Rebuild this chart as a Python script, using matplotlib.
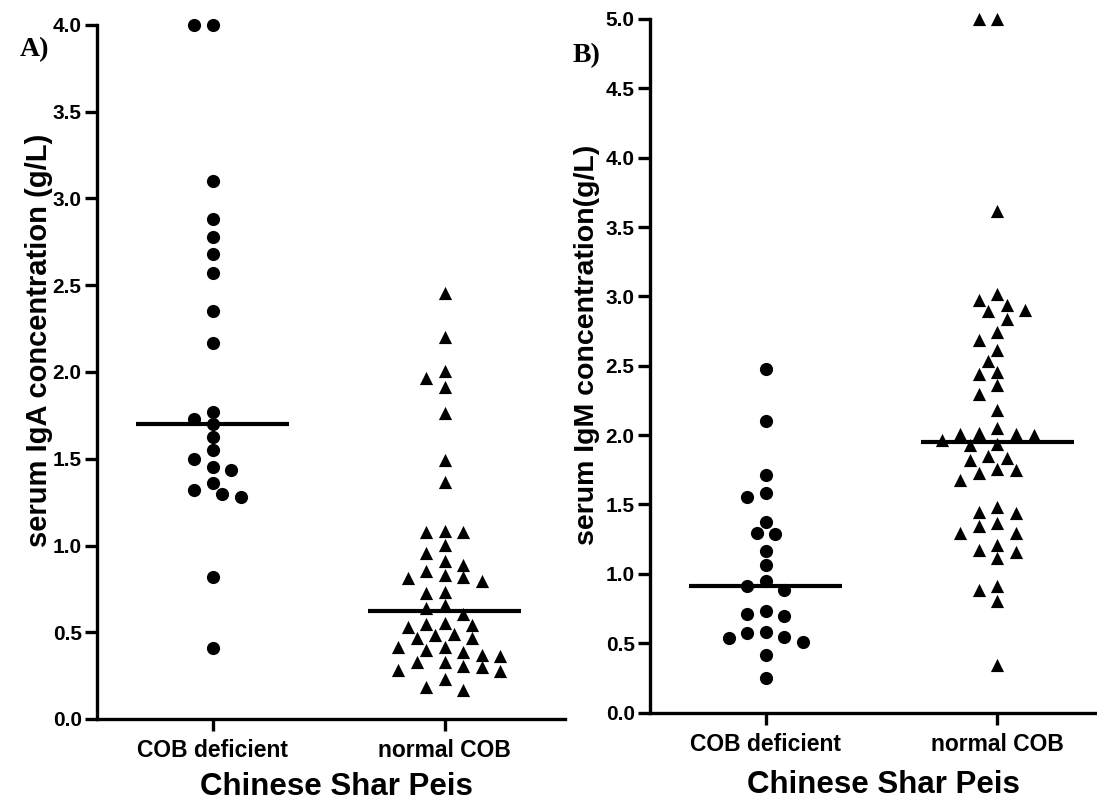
import numpy as np
import matplotlib
matplotlib.use("Agg")
import matplotlib.pyplot as plt

# ---------------- data ----------------
categories = ["COB deficient", "normal COB"]
xlabel_text = "Chinese Shar Peis"
ylabel_a = "serum IgA concentration (g/L)"
ylabel_b = "serum IgM concentration(g/L)"
panel_a = "A)"
panel_b = "B)"

iga_cob_deficient = [4.0, 4.0, 3.10, 2.88, 2.78, 2.68, 2.57, 2.35, 2.165, 1.77,
                     1.727, 1.70, 1.627, 1.55, 1.50, 1.454, 1.435, 1.362, 1.32,
                     1.295, 1.28, 0.817, 0.407]
iga_normal_cob = [2.455, 2.203, 2.006, 1.967, 1.911, 1.765, 1.493, 1.368, 1.085,
                  1.08, 1.075, 1.003, 0.959, 0.912, 0.89, 0.853, 0.83, 0.82,
                  0.814, 0.795, 0.734, 0.724, 0.657, 0.638, 0.608, 0.555, 0.548,
                  0.542, 0.532, 0.49, 0.484, 0.469, 0.465, 0.417, 0.413, 0.398,
                  0.388, 0.369, 0.363, 0.33, 0.33, 0.305, 0.297, 0.282, 0.277,
                  0.228, 0.182, 0.17]
igm_cob_deficient = [2.478, 2.105, 1.713, 1.581, 1.557, 1.372, 1.297, 1.288,
                     1.165, 1.064, 0.951, 0.915, 0.884, 0.735, 0.711, 0.696,
                     0.583, 0.571, 0.543, 0.535, 0.511, 0.415, 0.247]
igm_normal_cob = [5.0, 5.0, 3.613, 3.02, 2.971, 2.94, 2.904, 2.892, 2.837, 2.74,
                  2.688, 2.615, 2.531, 2.455, 2.442, 2.363, 2.298, 2.178, 2.05,
                  2.014, 2.009, 2.009, 2.002, 1.966, 1.937, 1.928, 1.851, 1.834,
                  1.817, 1.755, 1.75, 1.726, 1.678, 1.48, 1.444, 1.437, 1.365,
                  1.346, 1.297, 1.293, 1.208, 1.172, 1.16, 1.112, 0.915, 0.884,
                  0.807, 0.343]

# ---------------- styling ----------------
SANS = "Liberation Sans"
SERIF = "Liberation Serif"
W, H = 1097, 807
fig = plt.figure(figsize=(W / 100, H / 100), dpi=100)


def fig_rect(x0, y0, x1, y1):
    """pixel box (top-left origin) -> figure fraction rect"""
    return [x0 / W, 1 - y1 / H, (x1 - x0) / W, (y1 - y0) / H]


def swarm_offsets(values, ax, xlim, ylim, step_px=18.5, h_px=12.0):
    bbox = ax.get_window_extent()
    sx = bbox.width / (xlim[1] - xlim[0])
    sy = bbox.height / (ylim[1] - ylim[0])
    vals = np.asarray(values, dtype=float)
    order = np.argsort(-vals, kind="stable")
    placed = []
    offs = np.zeros(len(vals))
    ks = [0]
    for k in range(1, 20):
        ks += [-k, k]
    for i in order:
        y = vals[i] * sy
        for k in ks:
            x = k * step_px / 2.0
            ok = True
            for px, py in placed:
                if ((x - px) / step_px) ** 2 + ((y - py) / h_px) ** 2 < 1.0:
                    ok = False
                    break
            if ok:
                break
        placed.append((x, y))
        offs[i] = x / sx
    return offs


def panel(rect, groups, markers, ylim, yticks, xlim):
    ax = fig.add_axes(rect)
    ax.set_xlim(*xlim)
    ax.set_ylim(*ylim)
    for i, (vals, mk) in enumerate(zip(groups, markers)):
        offs = swarm_offsets(vals, ax, xlim, ylim)
        ax.scatter(i + offs, vals, marker=mk, s=90, color="black",
                   linewidths=0, clip_on=False, zorder=3)
        med = np.median(vals)
        ax.hlines(med, i - 0.33, i + 0.33, color="black", lw=3, zorder=4)
    for s in ("top", "right"):
        ax.spines[s].set_visible(False)
    for s in ("left", "bottom"):
        ax.spines[s].set_linewidth(2.4)
    ax.set_yticks(yticks)
    ax.set_yticklabels([f"{t:.1f}" for t in yticks])
    ax.set_xticks(range(len(categories)))
    ax.set_xticklabels(categories)
    ax.tick_params(axis="y", length=8.5, width=2.4, pad=2.5, labelsize=15)
    ax.tick_params(axis="x", length=8.5, width=2.4, pad=6, labelsize=16.5)
    for lab in ax.get_yticklabels() + ax.get_xticklabels():
        lab.set_fontfamily(SANS)
        lab.set_fontweight("bold")
    return ax


ax1 = panel(fig_rect(97, 25, 565, 719), [iga_cob_deficient, iga_normal_cob],
            ["o", "^"], (0, 4.0), np.arange(0, 4.01, 0.5), (-0.5, 1.52))
ax2 = panel(fig_rect(650, 19, 1097, 712.5), [igm_cob_deficient, igm_normal_cob],
            ["o", "^"], (0, 5.0), np.arange(0, 5.01, 0.5), (-0.5, 1.43))

# axis titles placed in figure pixels
fig.text(39 / W, 1 - 340 / H, ylabel_a, rotation=90, ha="center", va="center",
         fontsize=21, fontweight="bold", family=SANS)
fig.text(587 / W, 1 - 345 / H, ylabel_b, rotation=90, ha="center", va="center",
         fontsize=20.5, fontweight="bold", family=SANS)
fig.text(336 / W, 1 - 787 / H, xlabel_text, ha="center", va="center",
         fontsize=22.5, fontweight="bold", family=SANS)
fig.text(883 / W, 1 - 785 / H, xlabel_text, ha="center", va="center",
         fontsize=22.5, fontweight="bold", family=SANS)
fig.text(20 / W, 1 - 50 / H, panel_a, ha="left", va="center",
         fontsize=20, fontweight="bold", family=SERIF)
fig.text(573 / W, 1 - 56 / H, panel_b, ha="left", va="center",
         fontsize=20, fontweight="bold", family=SERIF)

fig.savefig("out.png", dpi=100)
